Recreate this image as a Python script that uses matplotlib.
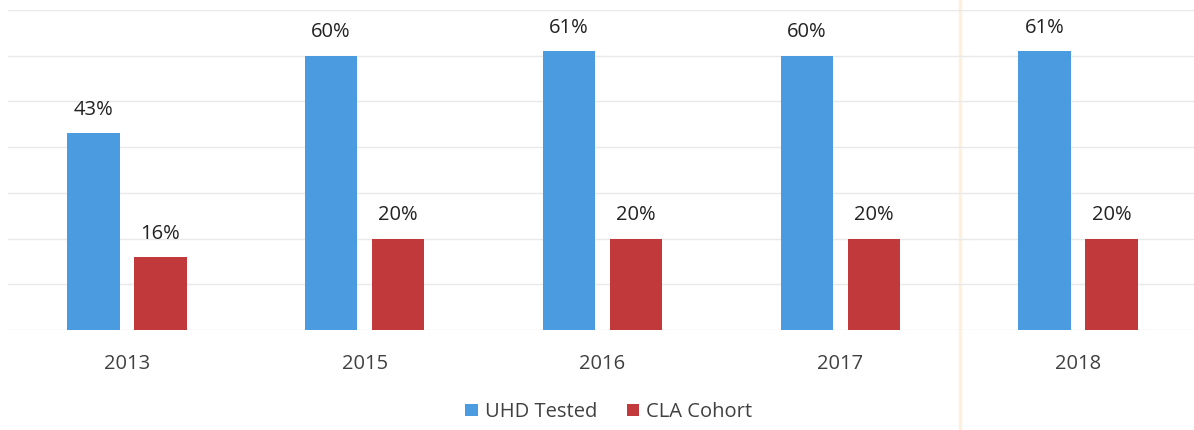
import numpy as np
import matplotlib.pyplot as plt
from matplotlib.lines import Line2D

years = ['2013', '2015', '2016', '2017', '2018']
uhd_tested = [43, 60, 61, 60, 61]
cla_cohort = [16, 20, 20, 20, 20]
series_names = ['UHD Tested', 'CLA Cohort']

blue = '#4a9be0'
red = '#c1393b'
text_col = '#404040'

plt.rcParams['font.family'] = ['Open Sans', 'DejaVu Sans']

fig = plt.figure(figsize=(11.94, 4.30), dpi=100)
# axes spans x 8..1197 px, y 10..330 px
ax = fig.add_axes([8 / 1194, 100 / 430, 1189 / 1194, 320 / 430])
ax.patch.set_alpha(0)

x = np.arange(len(years))
w = 0.22
off = 0.141
b1 = ax.bar(x - off, uhd_tested, w, color=blue, label=series_names[0], zorder=3)
b2 = ax.bar(x + off, cla_cohort, w, color=red, label=series_names[1], zorder=3)

for bars, vals in ((b1, uhd_tested), (b2, cla_cohort)):
    for rect, v in zip(bars, vals):
        ax.text(rect.get_x() + rect.get_width() / 2, v + 2.9, f'{v}%',
                ha='center', va='bottom', fontsize=14.5, color='#222222')

ax.set_xlim(-0.5, len(years) - 0.5)
ax.set_ylim(0, 70)
ax.set_yticks(np.arange(0, 71, 10))
ax.yaxis.grid(True, color='#e9e9e9', linewidth=1, zorder=0)
ax.set_yticklabels([])
ax.tick_params(axis='y', length=0)
ax.set_xticks(x)
ax.set_xticklabels(years, fontsize=14.5, color=text_col)
ax.tick_params(axis='x', length=0, pad=17)
for s in ax.spines.values():
    s.set_visible(False)

leg = fig.legend(handles=[b1, b2], labels=series_names, loc='center',
                 bbox_to_anchor=(0.51, 18 / 430), ncol=2, frameon=False,
                 fontsize=14.5, handlelength=0.6, handleheight=0.6,
                 handletextpad=0.35, columnspacing=1.5)
for t in leg.get_texts():
    t.set_color(text_col)

# faint vertical fold line seen in the scan
fig.add_artist(Line2D([960 / 1194, 960 / 1194], [0, 1], color='#fdf1de',
                      linewidth=2.5, transform=fig.transFigure, zorder=0))

fig.savefig('out.png', dpi=100)
